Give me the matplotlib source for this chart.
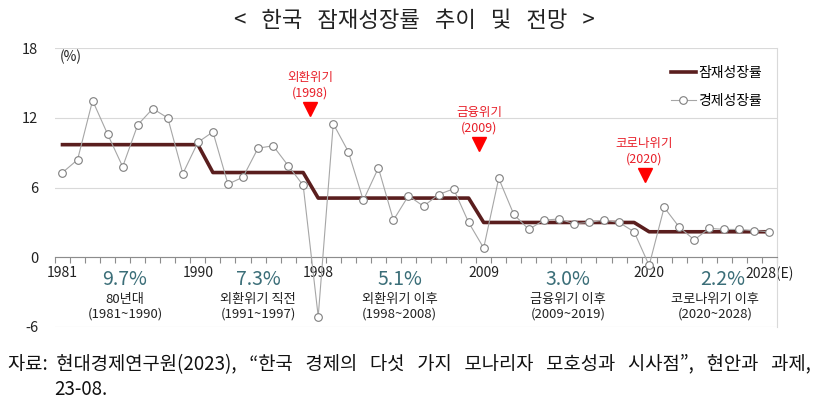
import matplotlib
matplotlib.use("Agg")
import matplotlib.pyplot as plt
from matplotlib.lines import Line2D

plt.rcParams["font.family"] = ["Noto Sans CJK KR", "DejaVu Sans"]

# ── Data ───────────────────────────────────────────────────────────────────────
YEARS = [1981, 1982, 1983, 1984, 1985, 1986, 1987, 1988, 1989, 1990,
         1991, 1992, 1993, 1994, 1995, 1996, 1997, 1998, 1999, 2000,
         2001, 2002, 2003, 2004, 2005, 2006, 2007, 2008, 2009, 2010,
         2011, 2012, 2013, 2014, 2015, 2016, 2017, 2018, 2019, 2020,
         2021, 2022, 2023, 2024, 2025, 2026, 2027, 2028]

GDP_GROWTH = [7.3, 8.4, 13.5, 10.6, 7.8, 11.4, 12.8, 12.0, 7.2, 9.9,
              10.8, 6.3, 6.9, 9.4, 9.6, 7.9, 6.2, -5.1, 11.5, 9.1,
              4.9, 7.7, 3.2, 5.3, 4.4, 5.4, 5.9, 3.0, 0.8, 6.8,
              3.7, 2.4, 3.2, 3.3, 2.9, 3.0, 3.2, 3.0, 2.2, -0.7,
              4.3, 2.6, 1.5, 2.5, 2.4, 2.4, 2.3, 2.2]

POTENTIAL = [9.7, 9.7, 9.7, 9.7, 9.7, 9.7, 9.7, 9.7, 9.7, 9.7,
             7.3, 7.3, 7.3, 7.3, 7.3, 7.3, 7.3, 5.1, 5.1, 5.1,
             5.1, 5.1, 5.1, 5.1, 5.1, 5.1, 5.1, 5.1, 3.0, 3.0,
             3.0, 3.0, 3.0, 3.0, 3.0, 3.0, 3.0, 3.0, 3.0, 2.2,
             2.2, 2.2, 2.2, 2.2, 2.2, 2.2, 2.2, 2.2]

LABEL_YEARS  = [1981, 1990, 1998, 2009, 2020, 2028]
LABEL_TEXTS  = ["1981", "1990", "1998", "2009", "2020", "2028(E)"]

PERIOD_RATES  = ["9.7%", "7.3%", "5.1%", "3.0%", "2.2%"]
PERIOD_NAMES  = ["80년대", "외환위기 직전", "외환위기 이후", "금융위기 이후", "코로나위기 이후"]
PERIOD_RANGES = ["(1981~1990)", "(1991~1997)", "(1998~2008)", "(2009~2019)", "(2020~2028)"]

CRISIS_NAMES = ["외환위기", "금융위기", "코로나위기"]
CRISIS_YEARS = ["(1998)", "(2009)", "(2020)"]

# ── Layout (category index / data units) ───────────────────────────────────────
PERIOD_X   = [4.15, 13.0, 22.4, 33.6, 43.4]
RATE_X     = [4.15, 13.0, 22.4, 33.6, 43.9]
CRISIS_X   = [16.45, 27.7, 38.7]
CRISIS_Y   = [12.77, 9.76, 7.09]

POT_COLOUR  = "#5A1E1E"
GDP_LINE    = "#A6A6A6"
GDP_EDGE    = "#7F7F7F"
RATE_COLOUR = "#3B6E78"
GRID_COLOUR = "#D9D9D9"

x = list(range(len(YEARS)))

fig = plt.figure(figsize=(8.23, 4.09), dpi=100)
ax = fig.add_axes([0.0668, 0.2005, 0.8773, 0.6815])

ax.plot(x, GDP_GROWTH, color=GDP_LINE, lw=0.8, marker="o", ms=5.5,
        mfc="white", mec=GDP_EDGE, mew=0.8, zorder=3)
ax.plot(x, POTENTIAL, color=POT_COLOUR, lw=2.6, zorder=2)

ax.set_xlim(-0.5, len(YEARS) - 0.5)
ax.set_ylim(-6, 18)
ax.set_yticks([-6, 0, 6, 12, 18])
ax.set_yticklabels(["-6", "0", "6", "12", "18"])
ax.grid(axis="y", color=GRID_COLOUR, lw=0.8)
ax.set_axisbelow(True)

ax.spines["bottom"].set_position(("data", 0))
ax.spines["bottom"].set_color("#8C8C8C")
ax.spines["bottom"].set_linewidth(0.8)
ax.spines["left"].set_visible(False)
ax.spines["top"].set_visible(False)
ax.spines["right"].set_color(GRID_COLOUR)
ax.spines["right"].set_linewidth(0.8)

ax.set_xticks([YEARS.index(y) for y in LABEL_YEARS])
ax.set_xticklabels(LABEL_TEXTS, fontsize=10, color="#222222")
ax.set_xticks([i - 0.5 for i in range(len(YEARS) + 1)], minor=True)
ax.tick_params(axis="x", which="major", length=0, pad=6.5)
ax.tick_params(axis="x", which="minor", length=4, color="#8C8C8C", width=0.8)
ax.tick_params(axis="y", length=0, pad=12, labelsize=10.5, labelcolor="#222222")

ax.text(0.55, 17.25, "(%)", fontsize=10, ha="center", va="center", color="#222222")

# period labels under the axis
for px, rx, rate, name, rng in zip(PERIOD_X, RATE_X, PERIOD_RATES, PERIOD_NAMES, PERIOD_RANGES):
    ax.text(rx, -1.87, rate, fontsize=14, color=RATE_COLOUR, ha="center", va="center")
    ax.text(px, -3.6, name, fontsize=9.5, color="#222222", ha="center", va="center")
    ax.text(px, -4.9, rng, fontsize=9.5, color="#222222", ha="center", va="center")

# crisis markers
for cx, cy, name, yr in zip(CRISIS_X, CRISIS_Y, CRISIS_NAMES, CRISIS_YEARS):
    ax.plot(cx, cy, marker="v", color="#FF0000", ms=10, zorder=4)
    ax.text(cx, cy + 2.75, name, fontsize=9, color="#E8202A", ha="center", va="center")
    ax.text(cx, cy + 1.38, yr, fontsize=9, color="#E8202A", ha="center", va="center")

handles = [
    Line2D([], [], color=POT_COLOUR, lw=2.6),
    Line2D([], [], color=GDP_LINE, lw=0.8, marker="o", ms=5.5,
           mfc="white", mec=GDP_EDGE, mew=0.8),
]
ax.legend(handles, ["잠재성장률", "경제성장률"], loc="upper right",
          bbox_to_anchor=(0.997, 0.98), frameon=False, fontsize=10,
          handlelength=1.8, handletextpad=0.2, labelspacing=1.0)

fig.text(0.504, 0.951, "<   한국   잠재성장률   추이   및   전망   >", fontsize=16,
         ha="center", va="center", color="#222222")
fig.text(0.010, 0.108,
         "자료:  현대경제연구원(2023),   “한국   경제의   다섯   가지   모나리자   모호성과   시사점”,   현안과   과제,",
         fontsize=13.5, ha="left", va="center", color="#111111")
fig.text(0.066, 0.047, "23-08.", fontsize=13.5, ha="left", va="center", color="#111111")

fig.savefig("out.png", dpi=100)
